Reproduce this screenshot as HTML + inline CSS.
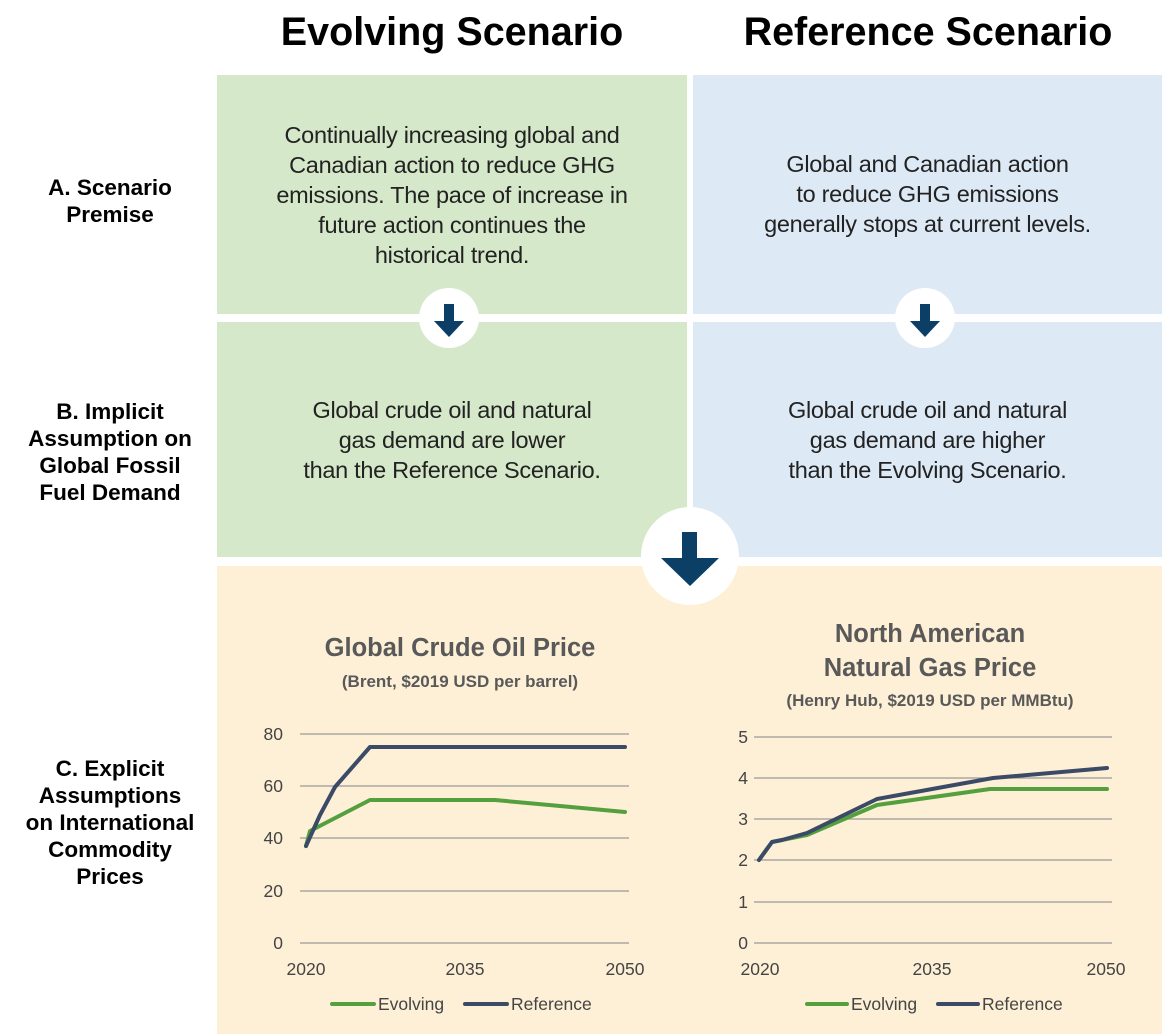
<!DOCTYPE html>
<html><head><style>
body{margin:0;width:1168px;height:1034px;background:#fff;position:relative;font-family:"Liberation Sans",sans-serif;overflow:hidden}
.b{position:absolute}
.t{position:absolute;text-align:center;color:#222;font-size:23.5px;line-height:30px;font-weight:300;letter-spacing:-0.3px}
.h{position:absolute;font-weight:bold;font-size:39.5px;text-align:center;width:470px;top:10px;color:#000}
.l{position:absolute;left:0;width:220px;text-align:center;font-weight:bold;font-size:22.5px;line-height:27px;color:#000}
.circ{position:absolute;background:#fff;border-radius:50%}
</style></head><body>
<div class="h" style="left:217px">Evolving Scenario</div>
<div class="h" style="left:693px">Reference Scenario</div>
<div class="b" style="left:217px;top:75px;width:470px;height:239px;background:#d5e8c9"></div>
<div class="b" style="left:693px;top:75px;width:469px;height:239px;background:#dde9f5"></div>
<div class="b" style="left:217px;top:322px;width:470px;height:235px;background:#d5e8c9"></div>
<div class="b" style="left:693px;top:322px;width:469px;height:235px;background:#dde9f5"></div>
<div class="b" style="left:217px;top:566px;width:945px;height:468px;background:#fef0d6"></div>
<div class="l" style="top:174px">A. Scenario<br>Premise</div>
<div class="l" style="top:398px">B. Implicit<br>Assumption on<br>Global Fossil<br>Fuel Demand</div>
<div class="l" style="top:755px">C. Explicit<br>Assumptions<br>on International<br>Commodity<br>Prices</div>
<div class="t" style="left:217px;width:470px;top:120px">Continually increasing global and<br>Canadian action to reduce GHG<br>emissions. The pace of increase in<br>future action continues the<br>historical trend.</div>
<div class="t" style="left:693px;width:469px;top:149px">Global and Canadian action<br>to reduce GHG emissions<br>generally stops at current levels.</div>
<div class="t" style="left:217px;width:470px;top:395px">Global crude oil and natural<br>gas demand are lower<br>than the Reference Scenario.</div>
<div class="t" style="left:693px;width:469px;top:395px">Global crude oil and natural<br>gas demand are higher<br>than the Evolving Scenario.</div>
<div class="circ" style="left:419px;top:288px;width:60px;height:60px"></div>
<div class="circ" style="left:895px;top:288px;width:60px;height:60px"></div>
<div class="circ" style="left:641px;top:507px;width:98px;height:98px"></div>
<svg class="b" style="left:0;top:0" width="1168" height="1034">
<g fill="#0b3f66">
<polygon points="444,304 454,304 454,321 464,321 449,337 434,321 444,321"/>
<polygon points="920,304 930,304 930,321 940,321 925,337 910,321 920,321"/>
<polygon points="682,532 697,532 697,558 719,558 690,586 661,558 682,558"/>
</g>
<g font-family="Liberation Sans,DejaVu Sans,sans-serif" font-weight="bold" fill="#595959" text-anchor="middle">
<text x="460" y="656" font-size="25.5">Global Crude Oil Price</text>
<text x="460" y="687" font-size="17">(Brent, $2019 USD per barrel)</text>
<text x="930" y="642" font-size="25.5">North American</text>
<text x="930" y="676" font-size="25.5">Natural Gas Price</text>
<text x="930" y="706" font-size="17">(Henry Hub, $2019 USD per MMBtu)</text>
</g>
<g stroke="#999" stroke-width="1.3">
<line x1="300" x2="629" y1="734" y2="734"/><line x1="300" x2="629" y1="786" y2="786"/><line x1="300" x2="629" y1="838" y2="838"/><line x1="300" x2="629" y1="891" y2="891"/><line x1="300" x2="629" y1="943" y2="943"/>
<line x1="754" x2="1112" y1="737" y2="737"/><line x1="754" x2="1112" y1="778" y2="778"/><line x1="754" x2="1112" y1="819" y2="819"/><line x1="754" x2="1112" y1="860" y2="860"/><line x1="754" x2="1112" y1="902" y2="902"/><line x1="754" x2="1112" y1="943" y2="943"/>
</g>
<g font-family="Liberation Sans,sans-serif" font-size="17.5" fill="#444">
<g text-anchor="end"><text x="283" y="740">80</text><text x="283" y="792">60</text><text x="283" y="844">40</text><text x="283" y="897">20</text><text x="283" y="949">0</text>
<text x="748" y="743">5</text><text x="748" y="784">4</text><text x="748" y="825">3</text><text x="748" y="866">2</text><text x="748" y="908">1</text><text x="748" y="949">0</text></g>
<g text-anchor="middle"><text x="306" y="975">2020</text><text x="465" y="975">2035</text><text x="625" y="975">2050</text>
<text x="760" y="975">2020</text><text x="932" y="975">2035</text><text x="1106" y="975">2050</text></g>
<text x="378" y="1010">Evolving</text><text x="511" y="1010">Reference</text>
<text x="851" y="1010">Evolving</text><text x="982" y="1010">Reference</text>
</g>
<g fill="none" stroke-width="4" stroke-linejoin="round" stroke-linecap="round">
<polyline stroke="#54a03e" points="306,846 310,831 370,800 495,800 560,806 625,812"/>
<polyline stroke="#3b4a66" points="306,846 320,815 335,787 370,747 625,747"/>
<polyline stroke="#54a03e" points="759,860 772,842 782,840 807,835 877,805 990,789 1107,789"/>
<polyline stroke="#3b4a66" points="759,860 772,842 782,840 807,833 877,799 993,778 1107,768"/>
<line stroke="#54a03e" x1="332" x2="374" y1="1004" y2="1004"/>
<line stroke="#3b4a66" x1="465" x2="507" y1="1004" y2="1004"/>
<line stroke="#54a03e" x1="807" x2="847" y1="1004" y2="1004"/>
<line stroke="#3b4a66" x1="938" x2="978" y1="1004" y2="1004"/>
</g>
</svg>
</body></html>
